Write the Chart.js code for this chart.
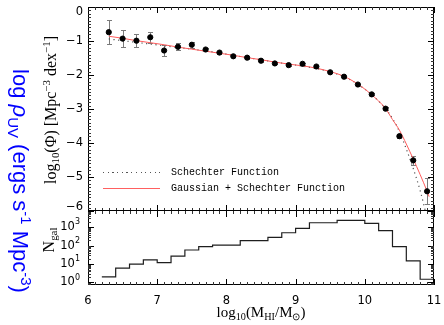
<!DOCTYPE html>
<html>
<head>
<meta charset="utf-8">
<script src="https://cdn.jsdelivr.net/npm/chart.js@4.4.1/dist/chart.umd.min.js"></script>
<style>
  body { margin: 0; background: #fff; }
  #wrap { position: relative; width: 444px; height: 325px; overflow: hidden; }
  canvas { position: absolute; left: 0; top: 0; }
  .txt { position: absolute; white-space: nowrap; line-height: 1; color: #000; }
  .rot { transform: translate(-50%, -50%) rotate(-90deg); }
  .rotcw { transform: translate(-50%, -50%) rotate(90deg); }
  .mid { transform: translate(-50%, -50%); }
  .sub { font-size: 68%; position: relative; top: 0.32em; }
  .sup { font-size: 68%; position: relative; top: -0.55em; }
  .serif { font-family: "Liberation Serif", serif; }
  .legtxt { font: 10px "Liberation Mono", monospace; }
</style>
</head>
<body>
<div id="wrap">
  <canvas id="phiChart" width="444" height="325"></canvas>
  <canvas id="countChart" width="444" height="325"></canvas>

  <div class="txt rotcw" style="left:20px; top:181px; font:22px 'Liberation Sans', sans-serif; color:#0000ff;">log <i>ρ</i><span class="sub">UV</span> (ergs s<span class="sup">-1</span> Mpc<span class="sup">-3</span>)</div>
  <div class="txt rot serif" style="left:51px; top:110px; font-size:16px;">log<span class="sub">10</span>(Φ) [Mpc<span class="sup">−3</span> dex<span class="sup">−1</span>]</div>
  <div class="txt rot serif" style="left:49px; top:240px; font-size:16px;">N<span class="sub">gal</span></div>
  <div class="txt mid serif" style="left:261px; top:312px; font-size:15px;">log<span class="sub">10</span>(M<span class="sub">HI</span>/M<span class="sub">⊙</span>)</div>

  <div style="position:absolute; left:103px; top:172px; width:57px; height:1px; background:repeating-linear-gradient(90deg, #555 0 1.2px, transparent 1.2px 4.7px);"></div>
  <div class="txt legtxt" style="left:171px; top:167px;">Schechter Function</div>
  <div style="position:absolute; left:103px; top:188px; width:57px; height:1px; background:#ff6060;"></div>
  <div class="txt legtxt" style="left:171px; top:183px;">Gaussian + Schechter Function</div>
</div>

<script>
Chart.defaults.font.family = "'DejaVu Sans', sans-serif";
Chart.defaults.color = "#000";

// mass function: bin centres, log10 phi and the error bar ends
const massBins = [6.3, 6.5, 6.7, 6.9, 7.1, 7.3, 7.5, 7.7, 7.9, 8.1, 8.3, 8.5,
  8.7, 8.9, 9.1, 9.3, 9.5, 9.7, 9.9, 10.1, 10.3, 10.5, 10.7, 10.9];
const logPhi = [-0.74, -0.93, -0.99, -0.89, -1.28, -1.17, -1.11, -1.25, -1.34, -1.45, -1.49, -1.58,
  -1.66, -1.71, -1.67, -1.75, -1.92, -2.05, -2.28, -2.57, -2.99, -3.80, -4.51, -5.42];
const phiUpper = [-0.39, -0.68, -0.79, -0.74, -1.13, -1.07, -1.03, -1.21, -1.31, -1.42, -1.46, -1.55,
  -1.63, -1.68, -1.64, -1.72, -1.89, -2.02, -2.25, -2.54, -2.95, -3.74, -4.38, -5.04];
const phiLower = [-1.10, -1.18, -1.17, -1.05, -1.43, -1.27, -1.20, -1.29, -1.37, -1.48, -1.52, -1.61,
  -1.69, -1.74, -1.70, -1.78, -1.95, -2.08, -2.31, -2.60, -3.03, -3.86, -4.64, -5.79];

// fitted curves
const schechX = [6.3, 6.5, 6.7, 6.9, 7.1, 7.3, 7.5, 7.7, 7.9, 8.1, 8.3, 8.5, 8.7, 8.9,
  9.1, 9.3, 9.5, 9.7, 9.9, 10.1, 10.3, 10.4, 10.5, 10.6, 10.7, 10.8, 10.9];
const schechY = [-0.94, -0.99, -1.04, -1.09, -1.14, -1.19, -1.24, -1.29, -1.35, -1.42, -1.49, -1.55, -1.62, -1.68,
  -1.74, -1.81, -1.91, -2.05, -2.27, -2.58, -2.99, -3.28, -3.66, -4.18, -4.75, -5.40, -6.20];
const gaussX = [6.3, 6.5, 6.7, 6.9, 7.1, 7.3, 7.5, 7.7, 7.9, 8.1, 8.3, 8.5, 8.7, 8.9,
  9.1, 9.3, 9.5, 9.7, 9.9, 10.1, 10.3, 10.4, 10.5, 10.6, 10.7, 10.8, 10.9, 10.93];
const gaussY = [-0.86, -0.92, -0.99, -1.05, -1.11, -1.18, -1.24, -1.30, -1.36, -1.42, -1.49, -1.55, -1.62, -1.68,
  -1.73, -1.80, -1.90, -2.04, -2.27, -2.58, -2.99, -3.31, -3.62, -4.03, -4.47, -4.93, -5.42, -5.58];

// galaxy counts per 0.2 dex bin
const binEdges = [6.0, 6.2, 6.4, 6.6, 6.8, 7.0, 7.2, 7.4, 7.6, 7.8, 8.0, 8.2, 8.4,
  8.6, 8.8, 9.0, 9.2, 9.4, 9.6, 9.8, 10.0, 10.2, 10.4, 10.6, 10.8, 11.0];
const galCounts = [0, 2, 6, 10, 17, 12, 27, 58, 88, 108, 108, 186, 186,
  283, 500, 870, 1750, 1750, 2360, 2360, 1630, 650, 88, 15, 1.5];

// axis ticks
const massTicks = [6, 7, 8, 9, 10, 11];
const phiTicks = [0, -1, -2, -3, -4, -5, -6];
const countTicks = [1, 10, 100, 1000];
const countExp = ["0", "1", "2", "3"];

const massMinor = [];
for (let i = 60; i <= 110; i++) if (i % 10) massMinor.push(i / 10);
const phiMinor = [];
for (let i = -60; i <= 0; i++) if (i % 10) phiMinor.push(i / 10);
const countMinor = [];
for (let e = -1; e <= 3; e++) for (let m = 2; m <= 9; m++) countMinor.push(m * Math.pow(10, e));

const COUNT_MIN = 0.73, COUNT_MAX = 7600;

function tickMarks(chart, xVals, yVals, len) {
  const { ctx, chartArea: a, scales } = chart;
  ctx.beginPath();
  xVals.forEach(v => {
    const px = Math.round(scales.x.getPixelForValue(v)) + 0.5;
    ctx.moveTo(px, a.top); ctx.lineTo(px, a.top + len);
    ctx.moveTo(px, a.bottom); ctx.lineTo(px, a.bottom - len);
  });
  yVals.forEach(v => {
    if (v < scales.y.min || v > scales.y.max) return;
    const py = Math.round(scales.y.getPixelForValue(v)) + 0.5;
    ctx.moveTo(a.left, py); ctx.lineTo(a.left + len, py);
    ctx.moveTo(a.right, py); ctx.lineTo(a.right - len, py);
  });
  ctx.stroke();
}

function drawFrame(chart, yMajor, yMinor, topEdge) {
  const { ctx, chartArea: a } = chart;
  ctx.save();
  ctx.strokeStyle = "#000";
  ctx.lineWidth = 1;
  ctx.strokeRect(a.left + 0.5, topEdge, a.right - a.left - 1, a.bottom - 0.5 - topEdge);
  tickMarks(chart, massTicks, yMajor, 6);
  ctx.strokeStyle = "#333";
  tickMarks(chart, massMinor, yMinor, 3);
  ctx.restore();
}

const phiPlugin = {
  id: "phiPlugin",
  beforeDatasetsDraw(chart) {
    const { ctx, chartArea: a, scales: { x, y } } = chart;
    ctx.save();
    ctx.beginPath();
    ctx.rect(a.left, a.top, a.right - a.left, a.bottom - a.top);
    ctx.clip();
    ctx.strokeStyle = "#7a7a7a";
    ctx.lineWidth = 1;
    massBins.forEach((m, i) => {
      const px = Math.round(x.getPixelForValue(m)) + 0.5;
      const hi = Math.round(y.getPixelForValue(phiUpper[i])) + 0.5;
      const lo = Math.round(y.getPixelForValue(phiLower[i])) + 0.5;
      ctx.beginPath();
      ctx.moveTo(px, hi); ctx.lineTo(px, lo);
      ctx.moveTo(px - 2.5, hi); ctx.lineTo(px + 2.5, hi);
      ctx.moveTo(px - 2.5, lo); ctx.lineTo(px + 2.5, lo);
      ctx.stroke();
    });
    ctx.restore();
  },
  afterDraw(chart) {
    const { ctx, chartArea: a, scales: { y } } = chart;
    drawFrame(chart, phiTicks, phiMinor, a.top + 0.5);
    ctx.save();
    ctx.font = "11.5px 'DejaVu Sans'";
    ctx.fillStyle = "#000";
    ctx.textAlign = "right";
    ctx.textBaseline = "middle";
    phiTicks.forEach(v => {
      const py = Math.min(Math.max(y.getPixelForValue(v), a.top + 5), a.bottom - 4);
      ctx.fillText(v === 0 ? "0" : "\u2212" + (-v), a.left - 5, py);
    });
    ctx.restore();
  }
};

const countPlugin = {
  id: "countPlugin",
  afterDraw(chart) {
    const { ctx, chartArea: a, scales: { x, y } } = chart;
    drawFrame(chart, countTicks, countMinor, a.top - 0.5);
    ctx.save();
    ctx.fillStyle = "#000";
    ctx.textBaseline = "middle";
    countTicks.forEach((v, i) => {
      const py = y.getPixelForValue(v);
      ctx.font = "8px 'DejaVu Sans'";
      const supW = ctx.measureText(countExp[i]).width;
      ctx.textAlign = "left";
      ctx.fillText(countExp[i], a.left - 8 - supW, py - 5);
      ctx.font = "11.5px 'DejaVu Sans'";
      ctx.textAlign = "right";
      ctx.fillText("10", a.left - 8 - supW, py);
    });
    ctx.font = "11.5px 'DejaVu Sans'";
    ctx.textAlign = "center";
    massTicks.forEach(v => {
      ctx.fillText(String(v), x.getPixelForValue(v), a.bottom + 16);
    });
    ctx.restore();
  }
};

new Chart(document.getElementById("phiChart"), {
  type: "scatter",
  data: {
    datasets: [
      {
        label: "data",
        data: massBins.map((m, i) => ({ x: m, y: logPhi[i] })),
        backgroundColor: "#000",
        borderColor: "#000",
        pointRadius: 2.6,
        pointHoverRadius: 2.6
      },
      {
        type: "line",
        label: "Gaussian + Schechter Function",
        data: gaussX.map((m, i) => ({ x: m, y: gaussY[i] })),
        borderColor: "#ff5c5c",
        borderWidth: 1,
        pointRadius: 0,
        cubicInterpolationMode: "monotone",
        fill: false
      },
      {
        type: "line",
        label: "Schechter Function",
        data: schechX.map((m, i) => ({ x: m, y: schechY[i] })),
        borderColor: "#505050",
        borderWidth: 1.2,
        borderDash: [1.2, 3.5],
        pointRadius: 0,
        cubicInterpolationMode: "monotone",
        fill: false
      }
    ]
  },
  options: {
    responsive: false,
    animation: false,
    layout: { padding: { left: 0, right: 10, top: 7, bottom: 114 } },
    plugins: { legend: { display: false }, tooltip: { enabled: false } },
    scales: {
      x: { type: "linear", min: 6, max: 11, display: false },
      y: {
        type: "linear", min: -6, max: 0,
        grid: { display: false, drawTicks: false },
        border: { display: false },
        ticks: { display: false },
        afterFit(scale) { scale.width = 88; }
      }
    }
  },
  plugins: [phiPlugin]
});

new Chart(document.getElementById("countChart"), {
  type: "scatter",
  data: {
    datasets: [{
      type: "line",
      label: "N gal",
      data: binEdges.map((e, i) => ({ x: e, y: galCounts[Math.min(i, galCounts.length - 1)] })),
      stepped: true,
      borderColor: "#1e1e1e",
      borderWidth: 1.2,
      pointRadius: 0,
      fill: false
    }]
  },
  options: {
    responsive: false,
    animation: false,
    layout: { padding: { left: 0, right: 10, top: 211, bottom: 0 } },
    plugins: { legend: { display: false }, tooltip: { enabled: false } },
    scales: {
      x: {
        type: "linear", min: 6, max: 11,
        grid: { display: false, drawTicks: false },
        border: { display: false },
        ticks: { display: false },
        afterFit(scale) { scale.height = 40; }
      },
      y: {
        type: "logarithmic", min: COUNT_MIN, max: COUNT_MAX, bounds: "data",
        grid: { display: false, drawTicks: false },
        border: { display: false },
        ticks: { display: false },
        afterFit(scale) { scale.width = 88; }
      }
    }
  },
  plugins: [countPlugin]
});
</script>
</body>
</html>
